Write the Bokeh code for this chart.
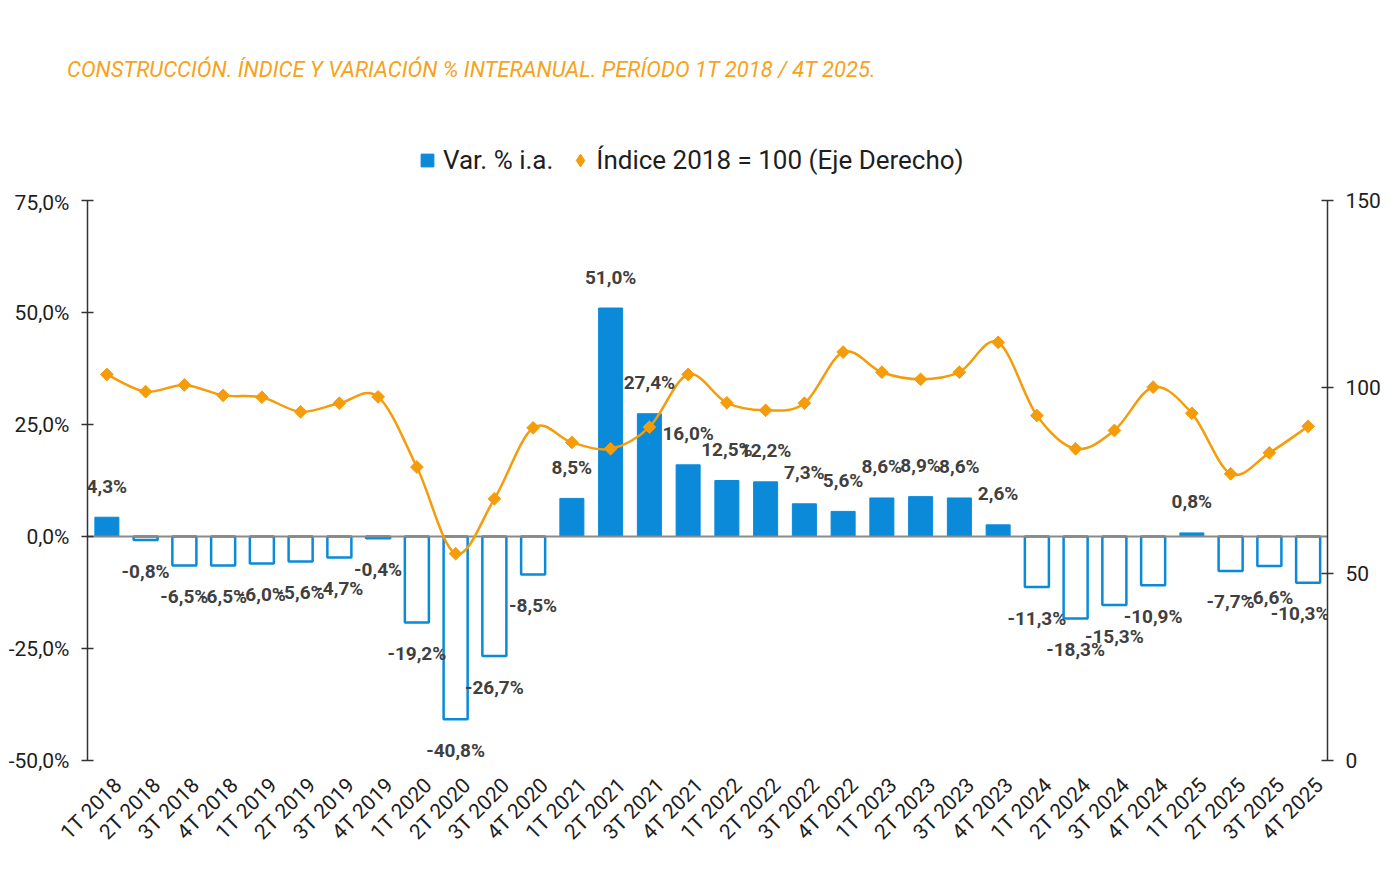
import math
import numpy as np
from bokeh.plotting import figure
from bokeh.layouts import column
from bokeh.models import (Range1d, LinearAxis, FixedTicker, ColumnDataSource, LabelSet,
                          Div, Legend, LegendItem)
from bokeh.core.properties import value
from bokeh.embed import file_html
from bokeh.resources import INLINE

# ---------------- data ----------------
categories = ["1T 2018", "2T 2018", "3T 2018", "4T 2018",
              "1T 2019", "2T 2019", "3T 2019", "4T 2019",
              "1T 2020", "2T 2020", "3T 2020", "4T 2020",
              "1T 2021", "2T 2021", "3T 2021", "4T 2021",
              "1T 2022", "2T 2022", "3T 2022", "4T 2022",
              "1T 2023", "2T 2023", "3T 2023", "4T 2023",
              "1T 2024", "2T 2024", "3T 2024", "4T 2024",
              "1T 2025", "2T 2025", "3T 2025", "4T 2025"]

var_ia = [4.3, -0.8, -6.5, -6.5,
          -6.0, -5.6, -4.7, -0.4,
          -19.2, -40.8, -26.7, -8.5,
          8.5, 51.0, 27.4, 16.0,
          12.5, 12.2, 7.3, 5.6,
          8.6, 8.9, 8.6, 2.6,
          -11.3, -18.3, -15.3, -10.9,
          0.8, -7.7, -6.6, -10.3]

indice = [103.4, 98.8, 100.6, 97.8,
          97.3, 93.4, 95.7, 97.4,
          78.6, 55.4, 70.1, 89.1,
          85.2, 83.5, 89.3, 103.4,
          95.8, 93.8, 95.7, 109.4,
          104.0, 102.1, 104.0, 112.0,
          92.4, 83.5, 88.4, 100.0,
          93.0, 76.8, 82.4, 89.5]

left_ticks = [-50, -25, 0, 25, 50, 75]
left_tick_labels = ["-50,0%", "-25,0%", "0,0%", "25,0%", "50,0%", "75,0%"]
right_ticks = [0, 50, 100, 150]

title_text = "CONSTRUCCIÓN. ÍNDICE Y VARIACIÓN % INTERANUAL. PERÍODO 1T 2018 / 4T 2025."
series_bar = "Var. % i.a."
series_line = "Índice 2018 = 100 (Eje Derecho)"

# ---------------- style ----------------
BLUE = "#0A8AD8"
ORANGE = "#F59C0B"
TITLE_ORANGE = "#F7A21B"
TXT = "#1E1E1E"
LBL = "#404040"
W = 1397
LABEL_SHIFT = 0.3   # rotated category labels sit slightly right of the bar centre

# ---------------- title ----------------
title_div = Div(text=title_text, width=W, height=110, margin=0,
                styles={"font-family": "Roboto", "font-style": "italic",
                        "font-size": "22px", "color": TITLE_ORANGE,
                        "padding-left": "67px", "padding-top": "56px",
                        "line-height": "28px", "white-space": "nowrap"})

# ---------------- legend strip ----------------
head = figure(width=W, height=80, x_range=Range1d(0, 1), y_range=Range1d(0, 1),
              x_axis_type=None, y_axis_type=None, output_backend="svg",
              toolbar_location=None, min_border=0, outline_line_color=None,
              background_fill_color="white", border_fill_color="white")
head.grid.visible = False

leg_bar = head.scatter(x=[np.nan], y=[np.nan], marker="square",
                       fill_color=BLUE, line_color=BLUE)
leg_idx = head.scatter(x=[np.nan], y=[np.nan], marker="diamond",
                       fill_color=ORANGE, line_color=ORANGE)
legend = Legend(items=[LegendItem(label=series_bar, renderers=[leg_bar]),
                       LegendItem(label=series_line, renderers=[leg_idx])],
                location=(324, 14), orientation="horizontal",
                label_text_font="Roboto", label_text_font_size="26px",
                label_text_color=TXT, label_text_baseline="middle",
                glyph_width=32, glyph_height=32, label_standoff=0, spacing=11,
                padding=0, margin=0, border_line_color=None,
                background_fill_alpha=0)
head.add_layout(legend)

# ---------------- main chart ----------------
xs = np.arange(len(categories))
v = np.array(var_ia)
pos = v >= 0

p = figure(frame_width=1240, frame_height=560,
           x_range=Range1d(-0.5, len(categories) - 0.5),
           y_range=Range1d(-50, 75),
           output_backend="svg", toolbar_location=None,
           min_border_left=87, min_border_right=70,
           min_border_top=10, min_border_bottom=128,
           background_fill_color="white", border_fill_color="white",
           outline_line_color=None)
p.grid.visible = False
p.extra_y_ranges = {"idx": Range1d(0, 150)}

def style_axis(ax):
    ax.axis_line_color = "#333333"
    ax.axis_line_width = 1.5
    ax.major_tick_line_color = "#333333"
    ax.major_tick_line_width = 1.5
    ax.major_tick_in = 6
    ax.major_tick_out = 6
    ax.minor_tick_line_color = None
    ax.major_label_text_font = "Roboto"
    ax.major_label_text_font_size = "21px"
    ax.major_label_text_color = TXT
    ax.major_label_standoff = 12

ly = p.yaxis[0]
ly.ticker = FixedTicker(ticks=left_ticks)
ly.major_label_overrides = dict(zip(left_ticks, left_tick_labels))
style_axis(ly)

ry = LinearAxis(y_range_name="idx", ticker=FixedTicker(ticks=right_ticks))
style_axis(ry)
p.add_layout(ry, "right")

label_pos = [float(i) + LABEL_SHIFT for i in range(len(categories))]
bx = p.xaxis[0]
bx.ticker = FixedTicker(ticks=label_pos)
bx.major_label_overrides = {t: c for t, c in zip(label_pos, categories)}
bx.major_label_orientation = math.pi / 4
bx.axis_line_color = None
bx.major_tick_line_color = None
bx.minor_tick_line_color = None
bx.major_label_text_font = "Roboto"
bx.major_label_text_font_size = "21px"
bx.major_label_text_color = TXT
bx.major_label_standoff = 15

# bars
pos_src = ColumnDataSource(dict(x=xs[pos], top=v[pos]))
neg_src = ColumnDataSource(dict(x=xs[~pos], top=v[~pos]))
p.vbar(x="x", top="top", bottom=0, width=0.62, source=pos_src,
       fill_color=BLUE, line_color=BLUE, line_width=1)
p.vbar(x="x", top="top", bottom=0, width=0.62, source=neg_src,
       fill_color="white", line_color=BLUE, line_width=2.5)

# zero line
p.hspan(y=[0], line_color="#8A8A8A", line_width=2)

# smoothed index line (Catmull-Rom -> cubic Bezier through the data points)
X = xs.astype(float)
Y = np.array(indice, dtype=float)
Xp = np.concatenate([[X[0]], X, [X[-1]]])
Yp = np.concatenate([[Y[0]], Y, [Y[-1]]])
n = len(X)
cx0 = X[:-1] + (Xp[2:n + 1] - Xp[0:n - 1]) / 6.0
cy0 = Y[:-1] + (Yp[2:n + 1] - Yp[0:n - 1]) / 6.0
cx1 = X[1:] - (Xp[3:n + 2] - Xp[1:n]) / 6.0
cy1 = Y[1:] - (Yp[3:n + 2] - Yp[1:n]) / 6.0
p.bezier(x0=X[:-1], y0=Y[:-1], x1=X[1:], y1=Y[1:], cx0=cx0, cy0=cy0, cx1=cx1, cy1=cy1,
         y_range_name="idx", line_color=ORANGE, line_width=2.5)
p.scatter(x=X, y=Y, marker="square", angle=math.pi / 4, size=9,
          fill_color=ORANGE, line_color=ORANGE, y_range_name="idx")

# data labels (last one nudged so it stays inside the frame)
lab_src = ColumnDataSource(dict(
    x=xs, y=v,
    txt=[("%.1f%%" % val).replace(".", ",") for val in var_ia],
    off=[31 if val >= 0 else -31 for val in var_ia],
    xoff=[0] * (len(var_ia) - 1) + [-8]))
labels = LabelSet(x="x", y="y", text="txt", x_offset="xoff", y_offset="off", source=lab_src,
                  text_align="center", text_baseline="middle",
                  text_font=value("Roboto"), text_font_style="bold",
                  text_font_size="19px", text_color=LBL)
p.add_layout(labels)

layout = column(title_div, head, p, spacing=0)
open("out.html", "w").write(file_html(layout, INLINE))
